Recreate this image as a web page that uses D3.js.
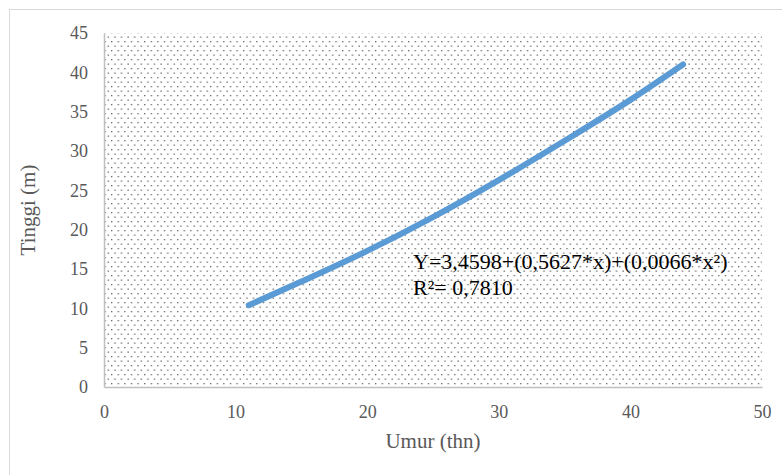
<!DOCTYPE html>
<html>
<head>
<meta charset="utf-8">
<script src="https://cdn.jsdelivr.net/npm/d3@7"></script>
<style>
  body { margin: 0; background: #fff; }
</style>
</head>
<body>
<svg id="chart" width="782" height="475"></svg>
<script>
// values
let umur = [11, 15, 20, 25, 30, 35, 40, 44];
let tinggi = [10.4, 13.4, 17.3, 21.6, 26.3, 31.3, 36.5, 41.0];
let xTicks = [0, 10, 20, 30, 40, 50];
let yTicks = [0, 5, 10, 15, 20, 25, 30, 35, 40, 45];
let eqLine1 = "Y=3,4598+(0,5627*x)+(0,0066*x\u00B2)";
let eqLine2 = "R\u00B2= 0,7810";

let serif = "'Liberation Serif', 'Times New Roman', Tinos, 'DejaVu Serif', serif";

let svg = d3.select("#chart");
let margin = {left: 104, top: 33, right: 20, bottom: 88};
let width = 782 - margin.left - margin.right;
let height = 475 - margin.top - margin.bottom;

// outer chart border
svg.append("rect")
    .attr("x", 9.5).attr("y", 9.5)
    .attr("width", 800).attr("height", 500)
    .attr("fill", "#fff")
    .attr("stroke", "#d9d9d9");

// dotted fill pattern
let defs = svg.append("defs");
let pat = defs.append("pattern")
    .attr("id", "dots")
    .attr("patternUnits", "userSpaceOnUse")
    .attr("x", margin.left + 2).attr("y", margin.top + 2)
    .attr("width", 6.6).attr("height", 9);
pat.append("rect").attr("x", 0).attr("y", 0).attr("width", 1.3).attr("height", 1.3).attr("fill", "#666");
pat.append("rect").attr("x", 3.3).attr("y", 4.5).attr("width", 1.3).attr("height", 1.3).attr("fill", "#666");

let x = d3.scaleLinear().domain([0, 50]).range([0, width]);
let y = d3.scaleLinear().domain([0, 45]).range([height, 0]);

let g = svg.append("g")
    .attr("transform", "translate(" + margin.left + "," + margin.top + ")");

g.append("rect")
    .attr("width", width).attr("height", height)
    .attr("fill", "url(#dots)");

// axes
let xAxis = g.append("g")
    .attr("transform", "translate(0," + height + ")")
    .call(d3.axisBottom(x).tickValues(xTicks).tickSize(0).tickPadding(18));
let yAxis = g.append("g")
    .call(d3.axisLeft(y).tickValues(yTicks).tickSize(0).tickPadding(16));

[xAxis, yAxis].forEach(function (a) {
    a.attr("font-family", serif).attr("font-size", 18);
    a.select(".domain").attr("stroke", "#bfbfbf").attr("stroke-width", 1.5);
    a.selectAll("text").attr("fill", "#595959");
});

// curve
let line = d3.line()
    .x(function (d, i) { return x(umur[i]); })
    .y(function (d) { return y(d); })
    .curve(d3.curveMonotoneX);

g.append("path")
    .datum(tinggi)
    .attr("d", line)
    .attr("fill", "none")
    .attr("stroke", "#5b9bd5")
    .attr("stroke-width", 6)
    .attr("stroke-linecap", "round");

// equation
let eq = svg.append("text")
    .attr("y", 269)
    .attr("fill", "#000")
    .attr("font-family", serif)
    .attr("font-size", 22);
eq.append("tspan").attr("x", 413).text(eqLine1);
eq.append("tspan").attr("x", 413).attr("dy", 26).text(eqLine2);

// axis titles
svg.append("text")
    .attr("x", margin.left + width / 2)
    .attr("y", 448)
    .attr("text-anchor", "middle")
    .attr("fill", "#595959")
    .attr("font-family", serif)
    .attr("font-size", 21)
    .text("Umur (thn)");

svg.append("text")
    .attr("transform", "translate(35," + (margin.top + height / 2) + ") rotate(-90)")
    .attr("text-anchor", "middle")
    .attr("fill", "#595959")
    .attr("font-family", serif)
    .attr("font-size", 21)
    .text("Tinggi (m)");
</script>
</body>
</html>
